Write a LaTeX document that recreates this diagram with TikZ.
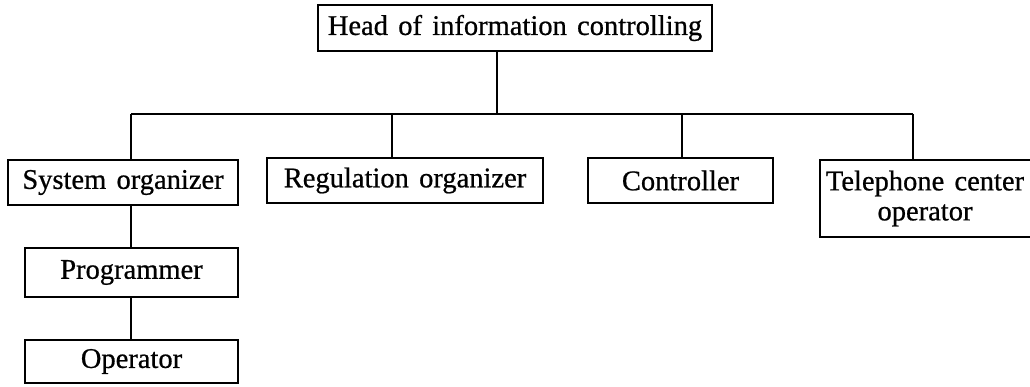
\documentclass[tikz,border=0pt]{standalone}
\usepackage{fontspec}
\setmainfont{Liberation Serif}[FakeBold=0.7]
\newcommand\labelfont{\fontsize{28.5}{30}\selectfont\spaceskip=0.36em\relax}
\begin{document}
\begin{tikzpicture}[x=1pt,y=-1pt,
  lbl/.style={inner sep=0pt,align=center,font=\labelfont},
  box/.style={lbl,draw,line width=2pt},
  link/.style={line width=2.8pt}]
\useasboundingbox (0,0) rectangle (1030,387);
% top of the hierarchy
\node[box,minimum width=394pt,minimum height=46pt] (head) at (515,28) {Head of information controlling};
% second level
\node[box,minimum width=230pt,minimum height=45pt] (sys) at (123,182.5) {System organizer};
\node[box,minimum width=276pt,minimum height=45pt] (reg) at (405,180.5) {Regulation organizer};
\node[box,minimum width=185pt,minimum height=45pt] (ctl) at (680.5,180.5) {Controller};
\node[lbl,minimum width=210pt,minimum height=77pt] (tel) at (925,198.5) {Telephone center\\operator};
\draw[line width=2pt] (tel.north east) -- (tel.north west) -- (tel.south west) -- (tel.south east);
% third and fourth level
\node[box,minimum width=213pt,minimum height=49pt] (prog) at (131.5,272.5) {Programmer};
\node[box,minimum width=213pt,minimum height=43pt] (oper) at (131.5,361.5) {Operator};
% distribution bus
\coordinate (j) at (497,114);
\coordinate (bl) at (131,114);
\coordinate (br) at (913,114);
\coordinate (b2) at (392,114);
\coordinate (b3) at (682,114);
\draw[link] (head.south -| j) -- (j);
\draw[line width=2pt] (bl) -- (br);
\draw[link] (bl) -- (sys.north -| bl);
\draw[link] (b2) -- (reg.north -| b2);
\draw[link] (b3) -- (ctl.north -| b3);
\draw[link] (br) -- (tel.north -| br);
\draw[link] (sys.south -| bl) -- (prog.north -| bl);
\draw[link] (prog.south -| bl) -- (oper.north -| bl);
\end{tikzpicture}
\end{document}
